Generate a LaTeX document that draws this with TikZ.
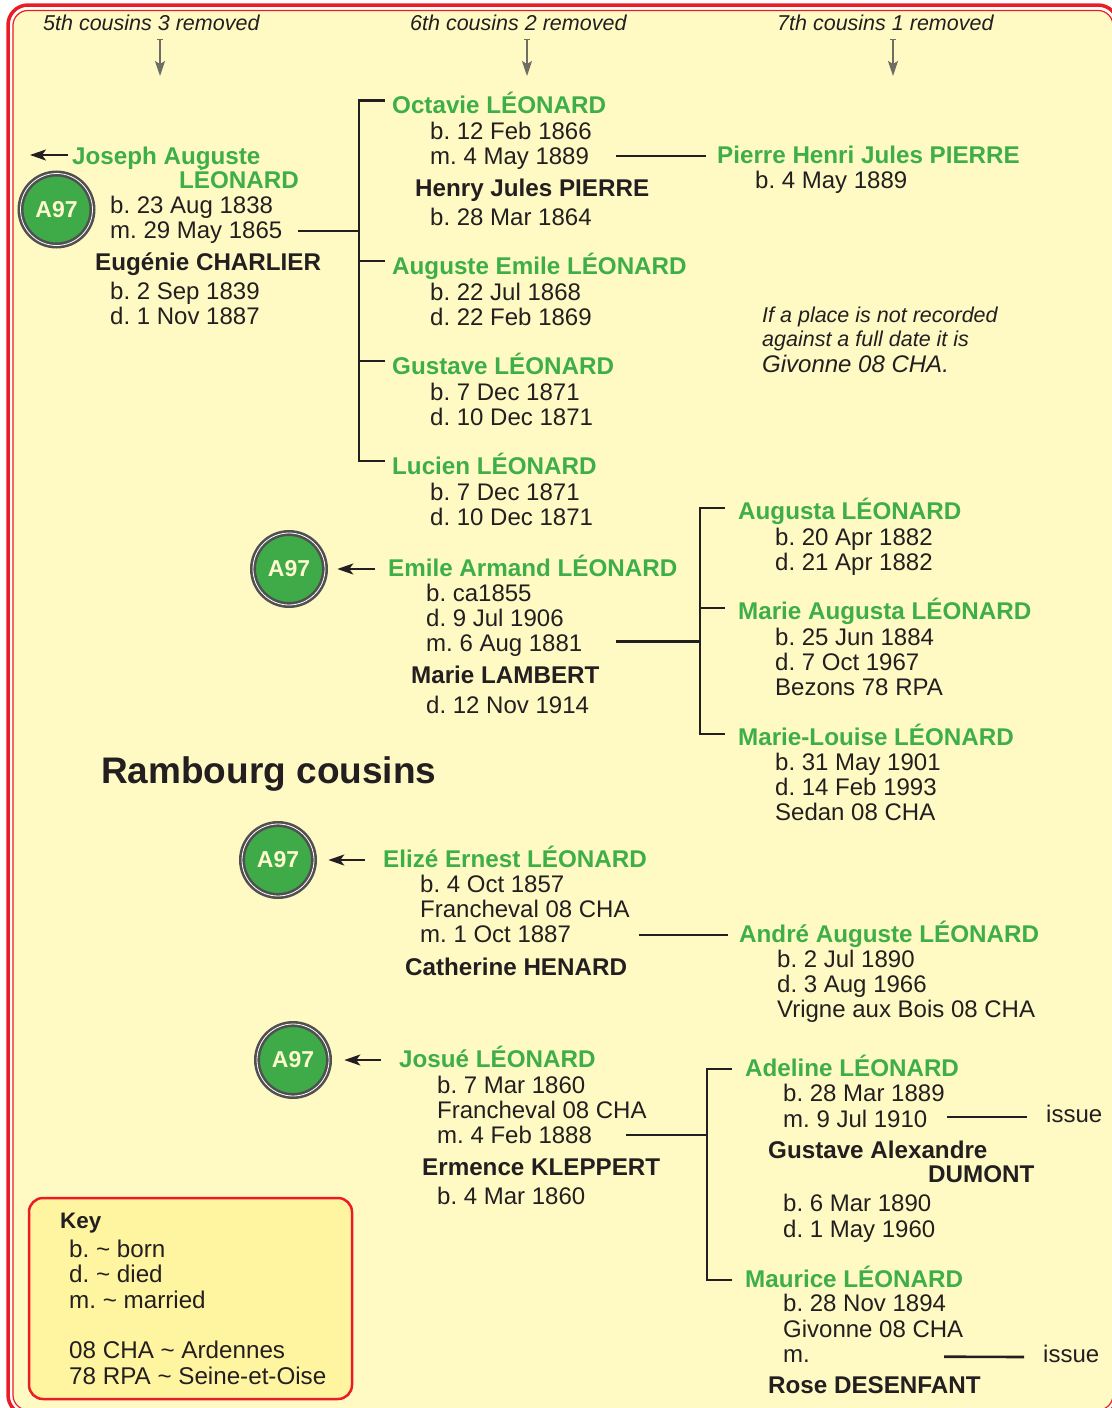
\documentclass[tikz,border=0pt]{standalone}
\usepackage{fontspec}
\setmainfont{Liberation Sans}
\frenchspacing
\usetikzlibrary{positioning,arrows.meta}
\definecolor{kingreen}{RGB}{62,174,73}
\definecolor{badgegreen}{RGB}{62,170,72}
\definecolor{ink}{RGB}{35,31,32}
\definecolor{paper}{RGB}{255,250,196}
\definecolor{keyfill}{RGB}{255,244,160}
\definecolor{framered}{RGB}{236,28,36}
\definecolor{ringgrey}{RGB}{80,80,80}
\definecolor{arrowgrey}{RGB}{110,110,100}
\definecolor{cream}{RGB}{255,250,205}
\newcommand\namefont{\fontsize{24.2}{23.8}\selectfont\bfseries\lineskiplimit=-100pt}
\newcommand\factfont{\fontsize{24}{25.4}\selectfont}
\newcommand\genfont{\fontsize{21.5}{24}\selectfont\itshape}
\newcommand\badgefont{\fontsize{23}{24}\selectfont\bfseries}
\newcommand\titlefont{\fontsize{37}{40}\selectfont\bfseries}
% multi-line nodes sit on the baseline of their last line
\tikzset{
  kin/.style={anchor=base west,inner sep=0pt,text=kingreen,font=\namefont,text height=19pt,text depth=5pt},
  spouse/.style={anchor=base west,inner sep=0pt,text=ink,font=\namefont,text height=19pt,text depth=5pt},
  facts/.style={anchor=base west,inner sep=0pt,text=ink,font=\factfont,align=left},
  gen/.style={anchor=base west,inner sep=0pt,text=ink,font=\genfont},
  badge/.style={circle,fill=badgegreen,draw=ringgrey,line width=2.6pt,double=white,double distance=0.8pt,minimum size=72pt,inner sep=0pt,text=cream,font=\badgefont},
  keyframe/.style={draw=framered,line width=2.5pt,rounded corners=14pt,fill=keyfill,minimum width=323pt,minimum height=201pt,inner sep=0pt},
  link/.style={draw=ink,line width=2.6pt},
  tobadge/.style={-{Stealth[length=16pt,width=11pt,inset=4pt]},line width=2.2pt,draw=ink},
  genarrow/.style={{Bar[width=6pt]}-{Stealth[length=15pt,width=10pt,inset=3pt]},line width=1.4pt,draw=arrowgrey}
}

\begin{document}
\begin{tikzpicture}[x=1pt,y=-1pt]
  \useasboundingbox (0,0) rectangle (1111,1408);
  % frame
  \draw[framered,line width=3.5pt,fill=white,rounded corners=20pt] (8,5) rectangle (1118,1415);
  \draw[framered,line width=1.2pt,fill=paper,rounded corners=15pt] (13,10.5) rectangle (1113,1410);

  % generations
  \node[gen] (gen5) at (43,30) {5th cousins 3 removed};
  \node[gen] (gen6) at (410,30) {6th cousins 2 removed};
  \node[gen] (gen7) at (777,30) {7th cousins 1 removed};
  \coordinate (gen5top) at (160,39);
  \coordinate (gen6top) at (527,39);
  \coordinate (gen7top) at (893,39);
  \draw[genarrow] (gen5top) -- ++(0,37);
  \draw[genarrow] (gen6top) -- ++(0,37);
  \draw[genarrow] (gen7top) -- ++(0,37);

  % Joseph Auguste
  \node[kin,align=left] (joseph) at (72,188.5) {Joseph Auguste\\\hspace*{107pt}LÉONARD};
  \node[badge] (josephA97) at (56.5,209.5) {A97};
  \node[facts] (josephD) at (110,238.4) {b. 23 Aug 1838\\m. 29 May 1865};
  \node[spouse] (eugenie) at (95,270) {Eugénie CHARLIER};
  \node[facts] (eugenieD) at (110,324.4) {b. 2 Sep 1839\\d. 1 Nov 1887};
  \coordinate (mJoseph) at (298,231);
  \draw[tobadge] ([shift={(-4,-33.5)}]joseph.base west) -- ++(-38,0);

  \node[kin] (octavie) at (392,113.5) {Octavie LÉONARD};
  \node[facts] (octavieD) at (430,164.4) {b. 12 Feb 1866\\m. 4 May 1889};
  \coordinate (mOctavie) at (616,156);
  \node[spouse] (henry) at (415,196) {Henry Jules PIERRE};
  \node[facts] (henryD) at (430,225) {b. 28 Mar 1864};
  \node[kin] (pierre) at (717,163) {Pierre Henri Jules PIERRE};
  \node[facts] (pierreD) at (755,188) {b. 4 May 1889};
  \node[kin] (auguste) at (392,274) {Auguste Emile LÉONARD};
  \node[facts] (augusteD) at (430,325.4) {b. 22 Jul 1868\\d. 22 Feb 1869};
  \node[kin] (gustave) at (392,374) {Gustave LÉONARD};
  \node[facts] (gustaveD) at (430,425.4) {b. 7 Dec 1871\\d. 10 Dec 1871};
  \node[kin] (lucien) at (392,474) {Lucien LÉONARD};
  \node[facts] (lucienD) at (430,525.4) {b. 7 Dec 1871\\d. 10 Dec 1871};

  \draw[link] (mJoseph) -- ++(61,0);
  \draw[link] ([shift={(-7,-13)}]octavie.base west) -- ++(-26,0) |- ([shift={(-7,-13)}]lucien.base west);
  \draw[link] ([shift={(-7,-13)}]auguste.base west) -- ++(-26,0);
  \draw[link] ([shift={(-7,-13)}]gustave.base west) -- ++(-26,0);
  \draw[link] (mOctavie) -- ([xshift=-11pt]pierre.west);

  % note
  \node[gen,align=left] (note) at (762,346.7) {If a place is not recorded\\against a full date it is};
  \node[gen,font=\fontsize{24}{26}\selectfont\itshape] (noteplace) at (762,372.6) {Givonne 08 CHA.};

  % Emile Armand
  \node[badge] (emileA97) at (289,569) {A97};
  \node[kin] (emile) at (388,576) {Emile Armand LÉONARD};
  \node[facts] (emileD) at (426,651.8) {b. ca1855\\d. 9 Jul 1906\\m. 6 Aug 1881};
  \coordinate (mEmile) at (616,641.5);
  \node[spouse] (lambert) at (411,683) {Marie LAMBERT};
  \node[facts] (lambertD) at (426,713) {d. 12 Nov 1914};
  \node[kin] (augusta) at (738,519) {Augusta LÉONARD};
  \node[facts] (augustaD) at (775,570.4) {b. 20 Apr 1882\\d. 21 Apr 1882};
  \node[kin] (mariea) at (738,619) {Marie Augusta LÉONARD};
  \node[facts] (marieaD) at (775,695.8) {b. 25 Jun 1884\\d. 7 Oct 1967\\Bezons 78 RPA};
  \node[kin] (mariel) at (738,745) {Marie-Louise LÉONARD};
  \node[facts] (marielD) at (775,820.8) {b. 31 May 1901\\d. 14 Feb 1993\\Sedan 08 CHA};

  \draw[tobadge] ([xshift=-13pt]emile.west) -- ([xshift=11pt]emileA97.east);
  \draw[link] (mEmile) -- ++(84,0);
  \draw[link] ([shift={(-13,-11)}]augusta.base west) -- ++(-25,0) |- ([shift={(-13,-11)}]mariel.base west);
  \draw[link] ([shift={(-13,-11)}]mariea.base west) -- ++(-25,0);

  \node[anchor=base west,inner sep=0pt,text=ink,font=\titlefont] (title) at (101,783) {Rambourg cousins};

  % Elize Ernest
  \node[badge] (elizeA97) at (278,860) {A97};
  \node[kin] (elize) at (383,867) {Elizé Ernest LÉONARD};
  \node[facts] (elizeD) at (420,942.8) {b. 4 Oct 1857\\Francheval 08 CHA\\m. 1 Oct 1887};
  \coordinate (mElize) at (639,935);
  \node[spouse] (catherine) at (405,975) {Catherine HENARD};
  \node[kin] (andre) at (739,942) {André Auguste LÉONARD};
  \node[facts] (andreD) at (777,1017.8) {b. 2 Jul 1890\\d. 3 Aug 1966\\Vrigne aux Bois 08 CHA};

  \draw[tobadge] ([xshift=-18pt]elize.west) -- ([xshift=13pt]elizeA97.east);
  \draw[link] (mElize) -- ([xshift=-11pt]andre.west);

  % Josue
  \node[badge] (josueA97) at (293,1060) {A97};
  \node[kin] (josue) at (399,1067) {Josué LÉONARD};
  \node[facts] (josueD) at (437,1143.8) {b. 7 Mar 1860\\Francheval 08 CHA\\m. 4 Feb 1888};
  \coordinate (mJosue) at (626,1135);
  \node[spouse] (ermence) at (422,1175) {Ermence KLEPPERT};
  \node[facts] (ermenceD) at (437,1204) {b. 4 Mar 1860};
  \node[kin] (adeline) at (745,1076) {Adeline LÉONARD};
  \node[facts] (adelineD) at (783,1127.1) {b. 28 Mar 1889\\m. 9 Jul 1910};
  \coordinate (mAdeline) at (947,1117);
  \node[facts] (issueA) at (1046,1122) {issue};
  \node[spouse,align=left] (dumont) at (768,1182.7) {Gustave Alexandre\\\hspace*{160pt}DUMONT};
  \node[facts] (dumontD) at (783,1237.1) {b. 6 Mar 1890\\d. 1 May 1960};
  \node[kin] (maurice) at (745,1287) {Maurice LÉONARD};
  \node[facts] (mauriceD) at (783,1362.5) {b. 28 Nov 1894\\Givonne 08 CHA\\m.};
  \coordinate (mMaurice) at (944,1356.7);
  \node[facts] (issueM) at (1043,1362) {issue};
  \node[spouse] (rose) at (768,1393) {Rose DESENFANT};

  \draw[tobadge] ([xshift=-18pt]josue.west) -- ([xshift=14pt]josueA97.east);
  \draw[link] (mJosue) -- ++(81,0);
  \draw[link] ([shift={(-13,-7)}]adeline.base west) -- ++(-25,0) |- ([shift={(-13,-7)}]maurice.base west);
  \draw[link] (mAdeline) -- ([shift={(-19,-5)}]issueA.base west);
  \draw[link] (mMaurice) -- ([shift={(-19,-5)}]issueM.base west);

  % key
  \node[keyframe] (key) at (190.5,1298.5) {};
  \node[anchor=base west,inner sep=0pt,text=ink,font=\fontsize{22.4}{24}\selectfont\bfseries] (keyhead) at (60,1228) {Key};
  \node[facts,font=\fontsize{24.2}{25.4}\selectfont] (keyitems) at (69,1384.3) {b. \textasciitilde{} born\\d. \textasciitilde{} died\\m. \textasciitilde{} married\\\mbox{}\\08 CHA \textasciitilde{} Ardennes\\78 RPA \textasciitilde{} Seine-et-Oise};
\end{tikzpicture}
\end{document}
